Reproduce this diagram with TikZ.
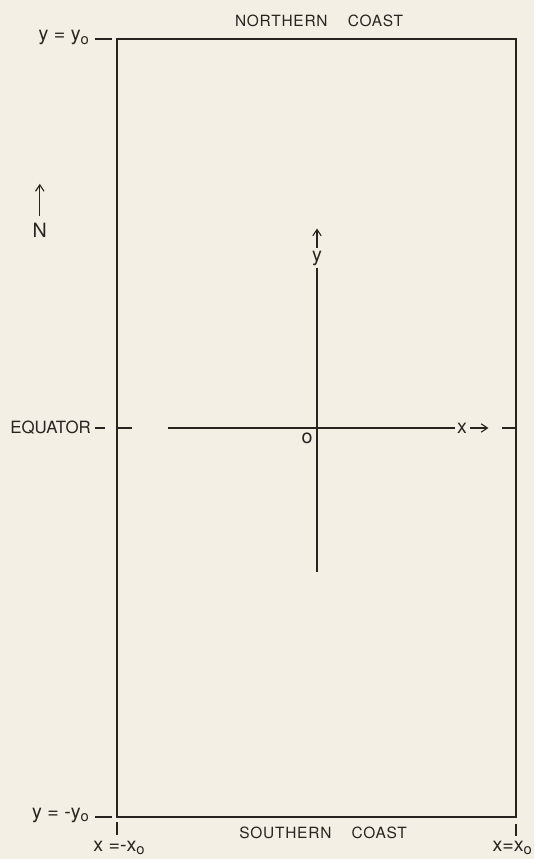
\documentclass[tikz,border=0pt]{standalone}
\usepackage{fontspec}
\usepackage{tikz}
\usetikzlibrary{arrows.meta}
\setmainfont{TeX Gyre Heros}
\newfontfamily\plateFont[LetterSpace=5]{TeX Gyre Heros}
\definecolor{paperCream}{RGB}{243,239,228}
\definecolor{inkBrown}{RGB}{42,36,32}
\newcommand{\subO}{\raisebox{-0.35ex}{\fontsize{10.5}{11}\selectfont o}}

\begin{document}
\begin{tikzpicture}[line width=1pt,color=inkBrown,
  lbl/.style={font=\plateFont\fontsize{11}{13}\selectfont,text=inkBrown,inner sep=1pt},
  eqlbl/.style={font=\fontsize{12}{14}\selectfont,text=inkBrown,inner sep=1pt},
  varlbl/.style={font=\fontsize{14}{16}\selectfont,text=inkBrown,inner sep=1pt},
  barb/.style={-{Straight Barb[length=4.5pt,width=6pt]},line width=0.8pt}]
\useasboundingbox (-7.925,-10.775) rectangle (5.425,10.7);
\fill[paperCream] (-7.925,-10.775) rectangle (5.425,10.7);
% basin
\coordinate (sw) at (-5,-9.72);
\coordinate (ne) at (4.97,9.72);
\draw (sw) rectangle (ne);
\node[lbl] (north) at (0.05,10.17) {NORTHERN\hspace{1.3em}COAST};
\node[lbl] (south) at (0.15,-10.12) {SOUTHERN\hspace{1.3em}COAST};
% marks on the left
\node[varlbl,anchor=east] (ytop) at (-5.65,9.76) {y = y\subO};
\draw (-5.55,9.72) -- (-5.12,9.72);
\node[eqlbl,anchor=east] (equator) at (-5.6,0) {EQUATOR};
\draw (-5.55,0) -- (-5.3,0);
\draw (-5,0) -- (-4.62,0);
\node[varlbl,anchor=east] (ybot) at (-5.65,-9.68) {y = -y\subO};
\draw (-5.55,-9.72) -- (-5.12,-9.72);
% north arrow
\node[varlbl] (nlbl) at (-6.93,4.95) {N};
\draw[barb] ([yshift=0.12cm]nlbl.north) -- ++(0,0.8);
% axes
\coordinate (O) at (0,0);
\draw (-3.72,0) -- (3.45,0) node[varlbl,right] (xlbl) {x};
\draw[barb] ([xshift=1pt]xlbl.east) -- ++(0.45,0);
\draw (4.62,0) -- (4.97,0);
\draw (0,-3.6) -- (0,4.0) node[varlbl,above] (ylbl) {y};
\draw[barb] ([yshift=1pt]ylbl.north) -- ++(0,0.48);
\node[varlbl] (olbl) at (-0.25,-0.25) {o};
% ticks at the south
\draw (-5,-9.85) -- (-5,-10.17);
\draw (4.97,-9.9) -- (4.97,-10.2);
\node[varlbl] (xleft) at (-4.95,-10.5) {x =-x\subO};
\node[varlbl] (xright) at (4.88,-10.5) {x=x\subO};
\end{tikzpicture}
\end{document}
